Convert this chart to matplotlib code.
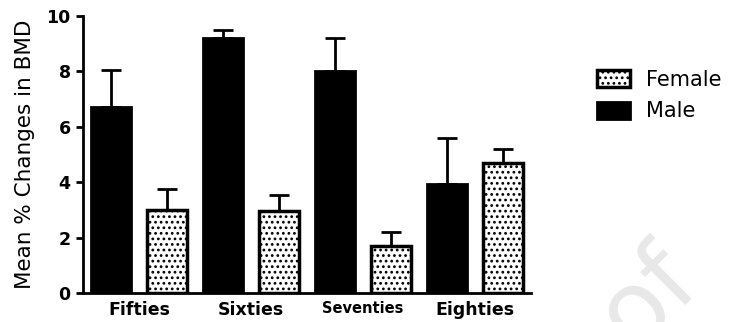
import matplotlib
matplotlib.use('Agg')
import matplotlib.pyplot as plt
import numpy as np

plt.rcParams['font.family'] = ['DejaVu Sans']
plt.rcParams['hatch.linewidth'] = 1.2

groups = ['Fifties', 'Sixties', 'Seventies', 'Eighties']
male = [6.7, 9.2, 8.0, 3.95]
male_err = [1.35, 0.3, 1.2, 1.65]
female = [3.0, 2.95, 1.7, 4.7]
female_err = [0.75, 0.6, 0.5, 0.5]

fig = plt.figure(figsize=(7.3, 3.22), dpi=100)
ax = fig.add_axes([0.114, 0.09, 0.613, 0.86])

x = np.arange(len(groups))
w = 0.36
off = 0.25

ax.bar(x - off, male, w, color='black', edgecolor='black', linewidth=2, label='Male', zorder=2)
ax.bar(x + off, female, w, color='white', edgecolor='black', linewidth=2.5,
       hatch='...', label='Female', zorder=2)
ax.errorbar(x - off, male, yerr=[np.zeros(4), male_err], fmt='none', ecolor='black',
            elinewidth=2, capsize=7, capthick=2, zorder=3)
ax.errorbar(x + off, female, yerr=[np.zeros(4), female_err], fmt='none', ecolor='black',
            elinewidth=2, capsize=7, capthick=2, zorder=3)

ax.set_xlim(-0.5, 3.5)
ax.set_ylim(0, 10)
ax.set_yticks([0, 2, 4, 6, 8, 10])
ax.set_xticks(x)
ax.set_xticklabels(groups, fontsize=12.5, fontweight='bold')
ax.get_xticklabels()[2].set_fontsize(10.5)
ax.tick_params(axis='x', length=0, pad=6)
ax.tick_params(axis='y', width=2, length=5, labelsize=12.5, pad=4)
for lab in ax.get_yticklabels():
    lab.set_fontweight('bold')
ax.set_ylabel('Mean % Changes in BMD', fontsize=15.5, labelpad=8)
for s in ['top', 'right']:
    ax.spines[s].set_visible(False)
for s in ['left', 'bottom']:
    ax.spines[s].set_linewidth(2)

h, l = ax.get_legend_handles_labels()
fig.legend(h[::-1], l[::-1], loc='upper left', bbox_to_anchor=(597 / 730, 1 - 70 / 322),
           frameon=False, fontsize=15, handlelength=1.6, handleheight=0.9,
           handletextpad=0.75, labelspacing=0.55, borderpad=0, borderaxespad=0)

# faint watermark in the corner
fig.text(648 / 730, 1 - 298 / 322, 'of', rotation=45, fontsize=72, color='#e8e8e8',
         ha='center', va='center', zorder=0)

plt.savefig('out.png', dpi=100)
